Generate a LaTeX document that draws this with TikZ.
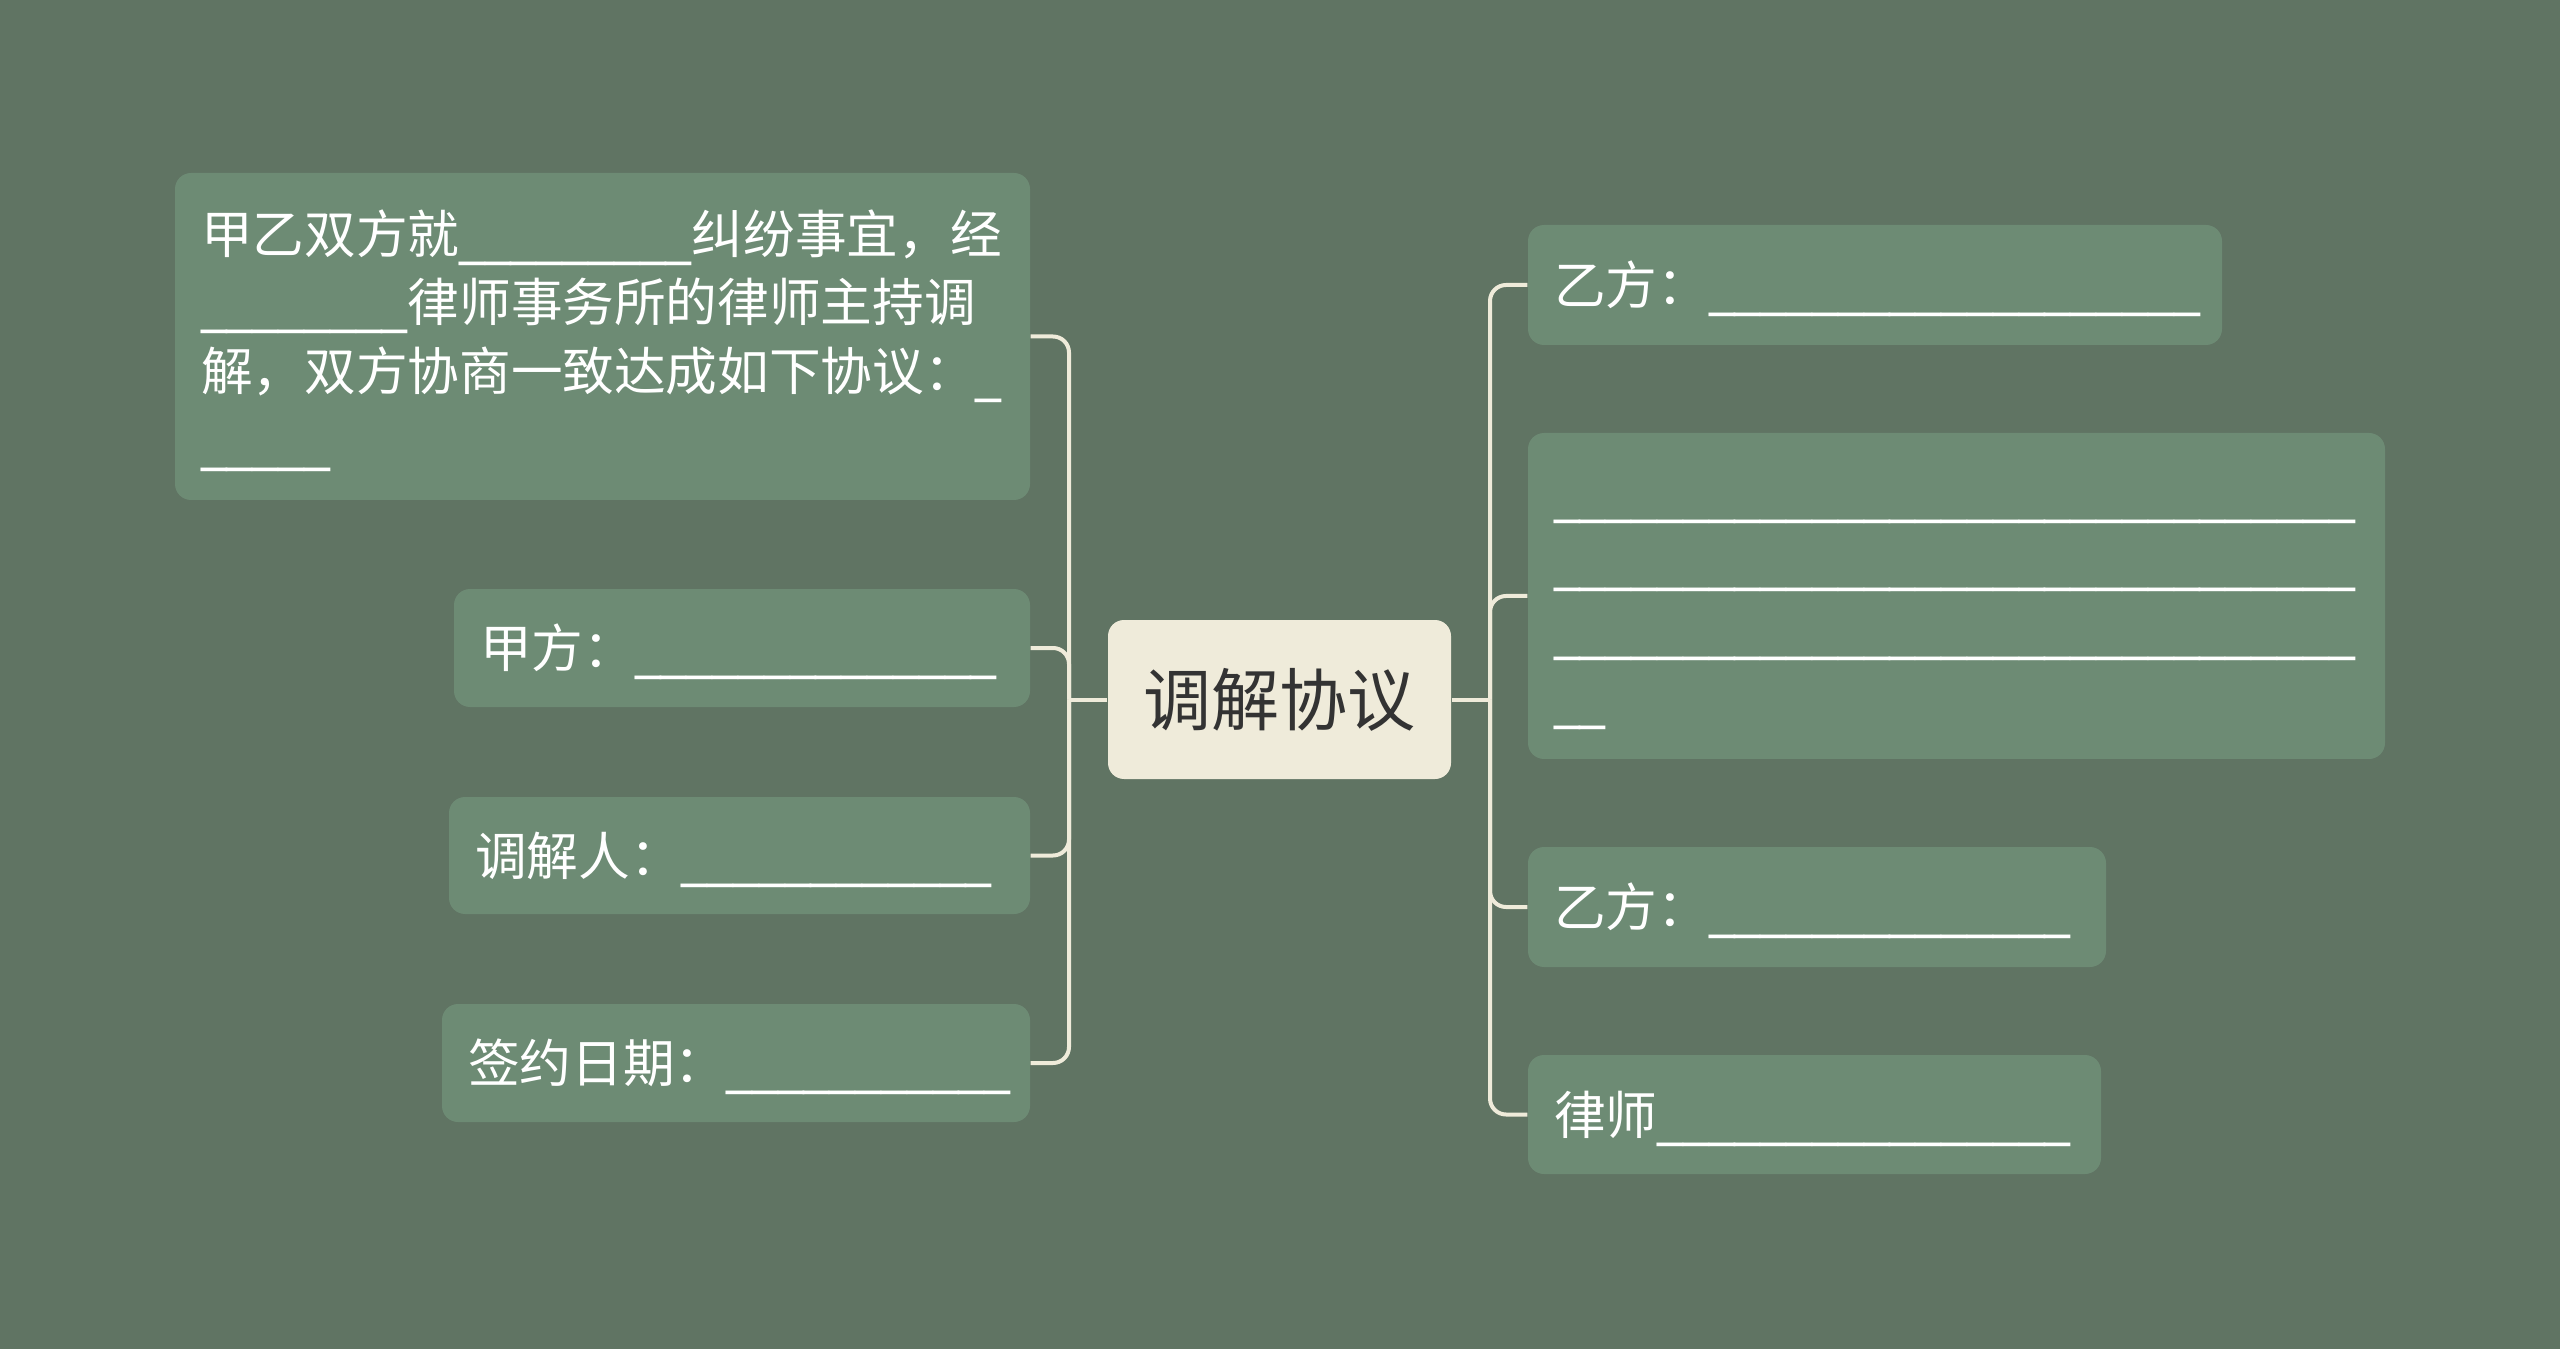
\documentclass[tikz,border=0pt]{standalone}
\usepackage{fontspec}
\setmainfont{Noto Sans CJK SC}
\newfontfamily\usfont{DejaVu Sans}
\definecolor{bgc}{HTML}{607463}
\definecolor{boxc}{HTML}{6D8B74}
\definecolor{creamc}{HTML}{EFEBDA}
\definecolor{darkc}{HTML}{333333}
\newcount\uscnt
\newcommand\blanks[1]{\vphantom{甲}\smash{\usfont\uscnt=#1\relax\loop\ifnum\uscnt>0 \textunderscore\advance\uscnt-1 \repeat}}
\begin{document}
\begin{tikzpicture}[x=0.3pt,y=-0.3pt,
  leaf/.style={fill=boxc, rounded corners=4.8pt, text=white,
    font=\fontsize{15.5pt}{20.6pt}\selectfont, align=left,
    inner xsep=0pt, inner ysep=0pt},
  root/.style={fill=creamc, rounded corners=4.8pt, text=darkc,
    font=\fontsize{20.4pt}{26pt}\selectfont, inner sep=0pt,
    minimum width=102.9pt, minimum height=47.7pt},
  conn/.style={draw=creamc, line width=1.2pt, rounded corners=4.8pt}]
\fill[bgc] (0,0) rectangle (2560,1349);
% root
\node[root] (c) at (1279.5,699.5) {调解协议};
% left
\node[leaf, minimum width=256.5pt, minimum height=98.1pt, text width=240.9pt] (L1) at (602.5,336.5)
  {甲乙双方就\blanks{9}纠纷事宜，经\\\blanks{8}律师事务所的律师主持调\\解，双方协商一致达成如下协议：\blanks{1}\\\blanks{5}};
\node[leaf, minimum width=172.8pt, minimum height=35.4pt, text width=157.2pt] (L2) at (742,648)
  {甲方：\blanks{14}};
\node[leaf, minimum width=174.3pt, minimum height=35.1pt, text width=158.7pt] (L3) at (739.5,855.5)
  {调解人：\blanks{12}};
\node[leaf, minimum width=176.4pt, minimum height=35.4pt, text width=160.8pt] (L4) at (736,1063)
  {签约日期：\blanks{11}};
% right
\node[leaf, minimum width=208.2pt, minimum height=36pt, text width=192.6pt] (R1) at (1875,285)
  {乙方：\blanks{19}};
\node[leaf, minimum width=257.1pt, minimum height=97.8pt, text width=241.5pt] (R2) at (1956.5,596)
  {\blanks{31}\\\blanks{31}\\\blanks{31}\\\blanks{2}};
\node[leaf, minimum width=173.4pt, minimum height=36pt, text width=157.8pt] (R3) at (1817,907)
  {乙方：\blanks{14}};
\node[leaf, minimum width=171.9pt, minimum height=35.7pt, text width=156.3pt] (R4) at (1814.5,1114.5)
  {律师\blanks{16}};
% connectors
\coordinate (lj) at (1069,699.5);
\coordinate (rj) at (1490,699.5);
\draw[conn] (c.west) -- (lj);
\draw[conn] (c.east) -- (rj);
\foreach \n in {L1,L2,L3,L4} \draw[conn] (lj) |- (\n.east);
\foreach \n in {R1,R2,R3,R4} \draw[conn] (rj) |- (\n.west);
\end{tikzpicture}
\end{document}
